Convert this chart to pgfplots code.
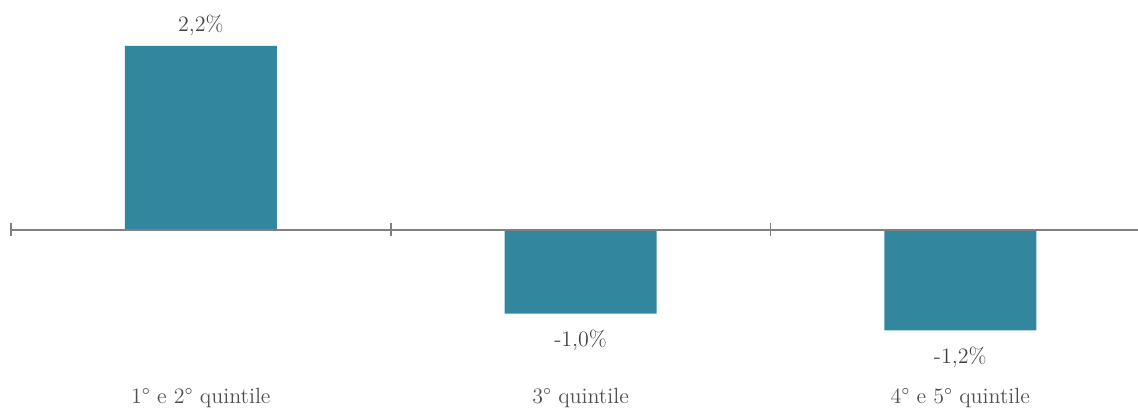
\documentclass[border=0pt]{standalone}
\usepackage{pgfplots}
\pgfplotsset{compat=1.18}
\definecolor{barteal}{RGB}{50,135,158}
\definecolor{axisgray}{RGB}{128,128,128}
\definecolor{labelgray}{RGB}{68,68,68}
\definecolor{catgray}{RGB}{80,80,80}
\begin{document}
\begin{tikzpicture}[catlabel/.style={anchor=base, font=\fontsize{11}{13}\selectfont, text=catgray}]
\begin{axis}[
  scale only axis, width=563.5pt, height=204pt,
  xmin=-0.5, xmax=2.468, ymin=-2.13, ymax=2.75,
  axis x line=none, axis y line=none,
  ybar, bar width=0.4,
  nodes near coords={\pgfmathprintnumber[fixed,fixed zerofill,precision=1,use comma,assume math mode=true]{\pgfplotspointmeta}\%},
  every node near coord/.append style={font=\fontsize{11}{13}\selectfont, text=labelgray, inner ysep=6.6pt, yshift=-1.6pt},
  clip=false,
]
\addplot[fill=barteal, draw=none] coordinates {(0,2.2) (1,-1.0) (2,-1.2)};
% zero line with centred separators between categories
\draw[axisgray, line width=1pt] (axis cs:-0.5,0) -- (axis cs:2.468,0);
\draw[axisgray, line width=0.8pt] ([yshift=-3.25pt]axis cs:-0.5,0) -- ([yshift=3.25pt]axis cs:-0.5,0);
\draw[axisgray, line width=0.8pt] ([yshift=-3.25pt]axis cs:0.5,0) -- ([yshift=3.25pt]axis cs:0.5,0);
\draw[axisgray, line width=0.8pt] ([yshift=-3.25pt]axis cs:1.5,0) -- ([yshift=3.25pt]axis cs:1.5,0);
% category names under the bars
\node[catlabel] at (axis cs:0,-2.08) {1° e 2° quintile};
\node[catlabel] at (axis cs:1,-2.08) {3° quintile};
\node[catlabel] at (axis cs:2,-2.08) {4° e 5° quintile};
\coordinate (bl) at (rel axis cs:0,0);
\coordinate (tr) at (rel axis cs:1,1);
\end{axis}
\pgfresetboundingbox
\useasboundingbox ([xshift=-5.5pt]bl) rectangle (tr);
\end{tikzpicture}
\end{document}
